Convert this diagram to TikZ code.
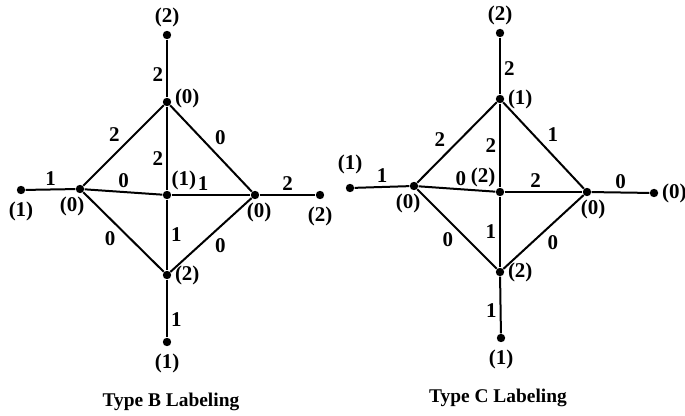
\documentclass[tikz,border=0pt]{standalone}
\usepackage{fontspec}
\setmainfont{Liberation Serif}
\usepackage{tikz}
\usetikzlibrary{positioning}

\begin{document}
\begin{tikzpicture}[
  x=0.5pt, y=-0.5pt,
  font=\fontsize{10.5}{12}\selectfont\bfseries,
  dot/.style={circle, fill=black, inner sep=0pt, minimum size=4.2pt},
  lab/.style={inner sep=1.5pt},
  e/.style={line width=1pt, black},
  caption/.style={font=\fontsize{9.7}{12}\selectfont\bfseries},
]
\useasboundingbox (0,0) rectangle (685,416);
% Type B
\node[dot, label={[lab]above:(2)}] (Btop) at (167,35) {};
\node[dot, label={[lab,yshift=2pt]right:(0)}] (Bn) at (167,102) {};
\node[dot, label={[lab,xshift=-4pt]below:(0)}] (Bw) at (80,189) {};
\node[dot, label={[lab,yshift=-2pt]below:(1)}] (Bwout) at (21,190) {};
\node[dot, label={[lab,inner sep=0.5pt]above right:(1)}] (Bc) at (167,195) {};
\node[dot, label={[lab,xshift=2pt]below:(0)}] (Be) at (255,195) {};
\node[dot, label={[lab,yshift=-2pt]below:(2)}] (Beout) at (320,195) {};
\node[dot, label={[lab]right:(2)}] (Bs) at (167,275) {};
\node[dot, label={[lab,yshift=-2pt]below:(1)}] (Bbot) at (167,342) {};
\node[caption] (Bcap) at (171,402) {Type B Labeling};
% Type C
\node[dot, label={[lab]above:(2)}] (Ctop) at (500,33) {};
\node[dot, label={[lab]right:(1)}] (Cn) at (500,99) {};
\node[dot, label={[lab,xshift=-3pt]below:(0)}] (Cw) at (414,186) {};
\node[dot, label={[lab,yshift=3pt]above:(1)}] (Cwout) at (350,188) {};
\node[dot, label={[lab,inner sep=0.5pt]above left:(2)}] (Cc) at (500,192) {};
\node[dot, label={[lab,xshift=3pt]below:(0)}] (Ce) at (587,192) {};
\node[dot, label={[lab]right:(0)}] (Ceout) at (654,193) {};
\node[dot, label={[lab]right:(2)}] (Cs) at (500,272) {};
\node[dot, label={[lab,yshift=-2pt]below:(1)}] (Cbot) at (501,338) {};
\node[caption] (Ccap) at (498,398) {Type C Labeling};
% edges B
\draw[e] (Btop) -- (Bn) node[lab, pos=0.6, left] {2};
\draw[e] (Bn) -- (Bw) node[lab, midway, above left] {2};
\draw[e] (Bn) -- (Be) node[lab, midway, above right] {0};
\draw[e] (Bn) -- (Bc) node[lab, pos=0.62, left] {2};
\draw[e] (Bwout) -- (Bw) node[lab, midway, above] {1};
\draw[e] (Bw) -- (Bc) node[lab, midway, above] {0};
\draw[e] (Bc) -- (Be) node[lab, pos=0.4, above] {1};
\draw[e] (Be) -- (Beout) node[lab, midway, above] {2};
\draw[e] (Bw) -- (Bs) node[lab, pos=0.45, below left] {0};
\draw[e] (Bc) -- (Bs) node[lab, midway, right] {1};
\draw[e] (Be) -- (Bs) node[lab, midway, below right] {0};
\draw[e] (Bs) -- (Bbot) node[lab, pos=0.7, right] {1};
% edges C
\draw[e] (Ctop) -- (Cn) node[lab, pos=0.55, right] {2};
\draw[e] (Cn) -- (Cw) node[lab, pos=0.6, above left] {2};
\draw[e] (Cn) -- (Ce) node[lab, midway, above right] {1};
\draw[e] (Cn) -- (Cc) node[lab, midway, left] {2};
\draw[e] (Cwout) -- (Cw) node[lab, midway, above] {1};
\draw[e] (Cw) -- (Cc) node[lab, pos=0.55, above] {0};
\draw[e] (Cc) -- (Ce) node[lab, pos=0.4, above] {2};
\draw[e] (Ce) -- (Ceout) node[lab, midway, above] {0};
\draw[e] (Cw) -- (Cs) node[lab, midway, below left] {0};
\draw[e] (Cc) -- (Cs) node[lab, midway, left] {1};
\draw[e] (Ce) -- (Cs) node[lab, midway, below right] {0};
\draw[e] (Cs) -- (Cbot) node[lab, pos=0.6, left] {1};
\end{tikzpicture}
\end{document}
